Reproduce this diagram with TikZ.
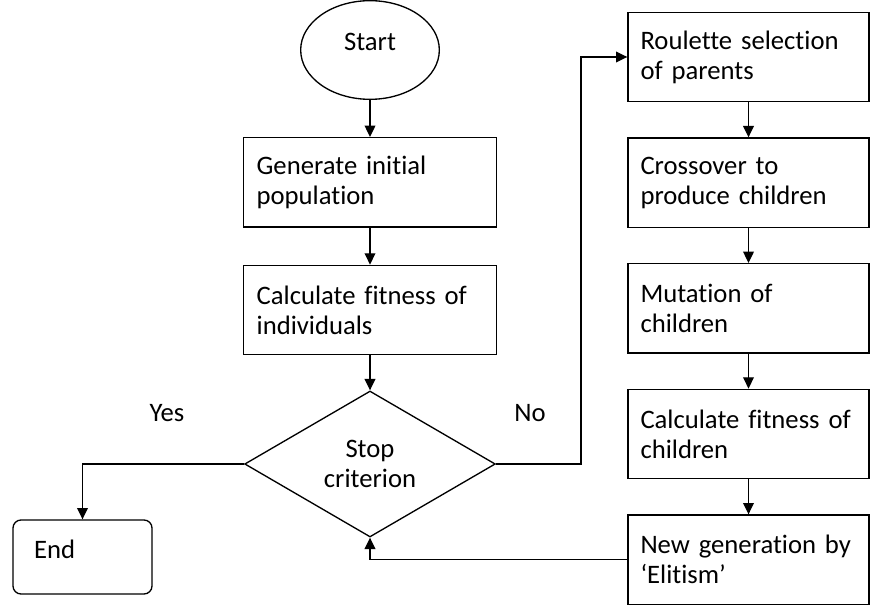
\documentclass[tikz,border=0pt]{standalone}
\usepackage{fontspec}
\setmainfont{Carlito}[Ligatures={TeX, NoCommon}]
\usetikzlibrary{arrows.meta, positioning, shapes.geometric}

\begin{document}
\begin{tikzpicture}
[x=0.75pt, y=-0.75pt, line width=1pt, font=\fontsize{20}{22.5}\selectfont,
->/.style={line width=1pt, arrows={-Triangle[length=8.5pt, width=8pt]}},
   termE/.style={shape=ellipse, draw, minimum width=104pt, minimum height=74pt, inner sep=0pt, text depth=12pt},
   termR/.style={shape=rectangle, rounded corners=6pt, draw, minimum height=55.5pt, text width=72.75pt, inner xsep=15.75pt, align=left, text depth=12pt},
   procL/.style={shape=rectangle, draw, minimum height=67pt, text width=170pt, inner xsep=9.875pt, align=left},
   procR/.style={procL, text width=162pt, inner xsep=9.375pt},
   decD/.style={shape=diamond, draw, minimum width=188pt, minimum height=109.5pt, inner sep=0pt, align=center}]
\useasboundingbox (0,0) rectangle (870,605);
\node[termE] (ST) at (370, 50) {Start};
\node[procL] (GI) [below=27.75pt of ST] {Generate initial\\population};
\node[procL] (CFI) [below=27.75pt of GI] {Calculate fitness of\\individuals};
\node[decD] (SC) [below=26.25pt of CFI] {Stop\\criterion};
\node[termR] (EN) at (82.5, 557) {End};
\node[procR] (RS) at (748.5, 57) {Roulette selection\\of parents};
\node[procR] (CO) [below=26.25pt of RS] {Crossover to\\produce children};
\node[procR] (MC) [below=26.25pt of CO] {Mutation of\\children};
\node[procR] (CFC) [below=26.25pt of MC] {Calculate fitness of\\children};
\node[procR] (NG) [below=26.25pt of CFC] {New generation by\\‘Elitism’};
\node (yes) at (167, 413) {Yes};
\node (no) at (530, 413) {No};
\draw [->] (ST) to (GI);
\draw [->] (GI) to (CFI);
\draw [->] (CFI) to (SC);
\draw [->] (SC.west) -| (EN);
\coordinate [right=63.75pt of SC.east] (NB);
\draw [->] (SC.east) -- (NB) |- (RS);
\draw [->] (RS) to (CO);
\draw [->] (CO) to (MC);
\draw [->] (MC) to (CFC);
\draw [->] (CFC) to (NG);
\draw [->] (NG.west) -| (SC);
\end{tikzpicture}
\end{document}
